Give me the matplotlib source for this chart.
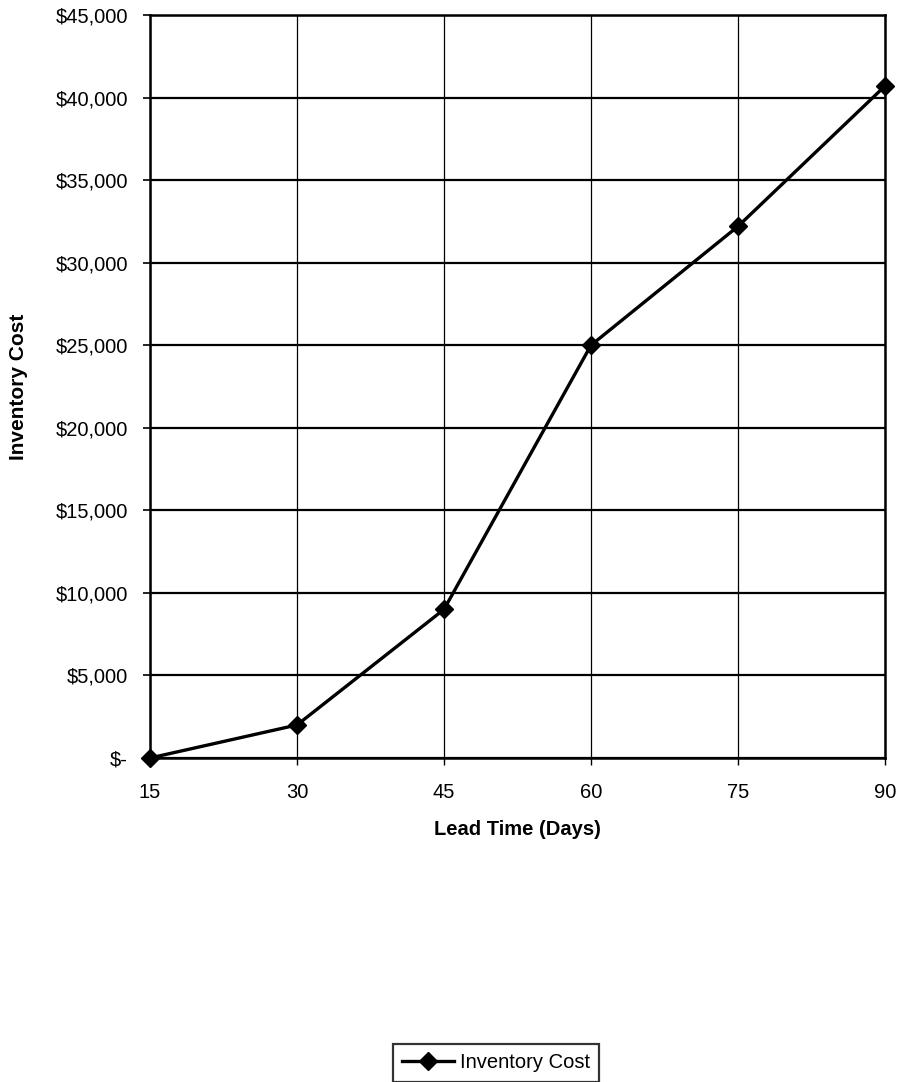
import matplotlib
matplotlib.use("Agg")
import matplotlib.pyplot as plt
from matplotlib.ticker import FuncFormatter

lead_time = [15, 30, 45, 60, 75, 90]
inventory_cost = [0, 2000, 9000, 25000, 32200, 40700]
y_ticks = [0, 5000, 10000, 15000, 20000, 25000, 30000, 35000, 40000, 45000]
x_ticks = [15, 30, 45, 60, 75, 90]

plt.rcParams['font.family'] = ['Liberation Sans', 'DejaVu Sans']

fig = plt.figure(figsize=(8.97, 10.82), dpi=100)
ax = fig.add_axes([150/897, 1-758/1082, (885-150)/897, (758-15)/1082])

line, = ax.plot(lead_time, inventory_cost, color='black', linewidth=2.4,
                marker='D', markersize=9, clip_on=False, zorder=5,
                label='Inventory Cost')

ax.set_xlim(15, 90)
ax.set_ylim(0, 45000)
ax.set_xticks(x_ticks)
ax.set_yticks(y_ticks)

def fmt(v, pos):
    if v == 0:
        return '$-'
    return '${:,.0f}'.format(v)

ax.yaxis.set_major_formatter(FuncFormatter(fmt))

ax.grid(True, axis='y', color='black', linewidth=1.6)
ax.grid(True, axis='x', color='black', linewidth=0.9)
ax.set_axisbelow(True)

for s in ax.spines.values():
    s.set_linewidth(1.8)
    s.set_color('black')

ax.tick_params(axis='y', direction='out', length=5, width=1.2, pad=11, labelsize=14.5)
ax.tick_params(axis='x', direction='out', length=5, width=1.0, pad=13, labelsize=14.5)

ax.set_xlabel('Lead Time (Days)', fontsize=14.5, fontweight='bold', labelpad=13)
ax.set_ylabel('Inventory Cost', fontsize=15, fontweight='bold', labelpad=20)

leg = fig.legend(handles=[line], loc='center', bbox_to_anchor=(496/897, 1-1063/1082),
                 fontsize=14.5, frameon=True, fancybox=False, edgecolor='black',
                 handlelength=2.6, borderpad=0.45, handletextpad=0.3)
leg.get_frame().set_linewidth(1.6)

fig.savefig('out.png', dpi=100)
